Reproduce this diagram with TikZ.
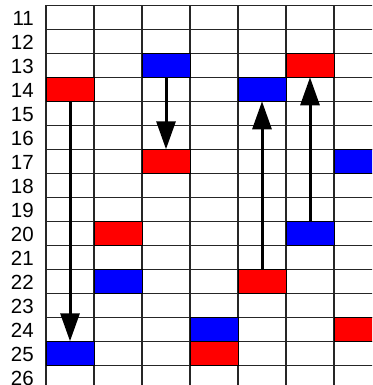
\documentclass[tikz,border=0pt]{standalone}
\usepackage{fontspec}
\setmainfont{Liberation Sans}
\usetikzlibrary{arrows.meta}
\begin{document}
\begin{tikzpicture}[x=1pt,y=-1pt,
  gridline/.style={draw=black!85,line width=1.3pt},
  lab/.style={anchor=east,inner sep=0pt,font=\fontsize{20.5}{20.5}\selectfont},
  block/.style={draw=black,line width=1pt,minimum width=48pt,minimum height=24pt,inner sep=0pt,outer sep=0pt},
  redb/.style={block,fill=red},
  blueb/.style={block,fill=blue},
  move/.style={line width=3pt,-{Triangle[width=19pt,length=28pt]},shorten >=0pt}]
\useasboundingbox (0,0) rectangle (372,385);
\clip (0,0) rectangle (372,385);
\fill[white] (0,0) rectangle (372,385);
% grid
\foreach \i in {0,...,7} \draw[gridline] (46+48*\i,5.3) -- (46+48*\i,390);
\foreach \j in {0,...,16} \draw[gridline] (46,5.3+24*\j) -- (383,5.3+24*\j);
% row labels
\foreach \n [count=\j from 0] in {11,...,26} \node[lab] (l\n) at (34,18.3+24*\j) {\n};
% blocks (center x = 70+48(c-1), center y = 17.3+24(r-11))
\node[blueb] (b13c3) at (166,65.3) {};
\node[redb]  (r13c6) at (310,65.3) {};
\node[redb]  (r14c1) at (70,89.3) {};
\node[blueb] (b14c5) at (262,89.3) {};
\node[redb]  (r17c3) at (166,161.3) {};
\node[blueb] (b17c7) at (358,161.3) {};
\node[redb]  (r20c2) at (118,233.3) {};
\node[blueb] (b20c6) at (310,233.3) {};
\node[blueb] (b22c2) at (118,281.3) {};
\node[redb]  (r22c5) at (262,281.3) {};
\node[blueb] (b24c4) at (214,329.3) {};
\node[redb]  (r24c7) at (358,329.3) {};
\node[blueb] (b25c1) at (70,353.3) {};
\node[redb]  (r25c4) at (214,353.3) {};
% moves
\draw[move] (r14c1.south) -- (b25c1.north);
\draw[move] (b13c3.south) -- (r17c3.north);
\draw[move] (r22c5.north) -- (b14c5.south);
\draw[move] (b20c6.north) -- (r13c6.south);
\end{tikzpicture}
\end{document}
